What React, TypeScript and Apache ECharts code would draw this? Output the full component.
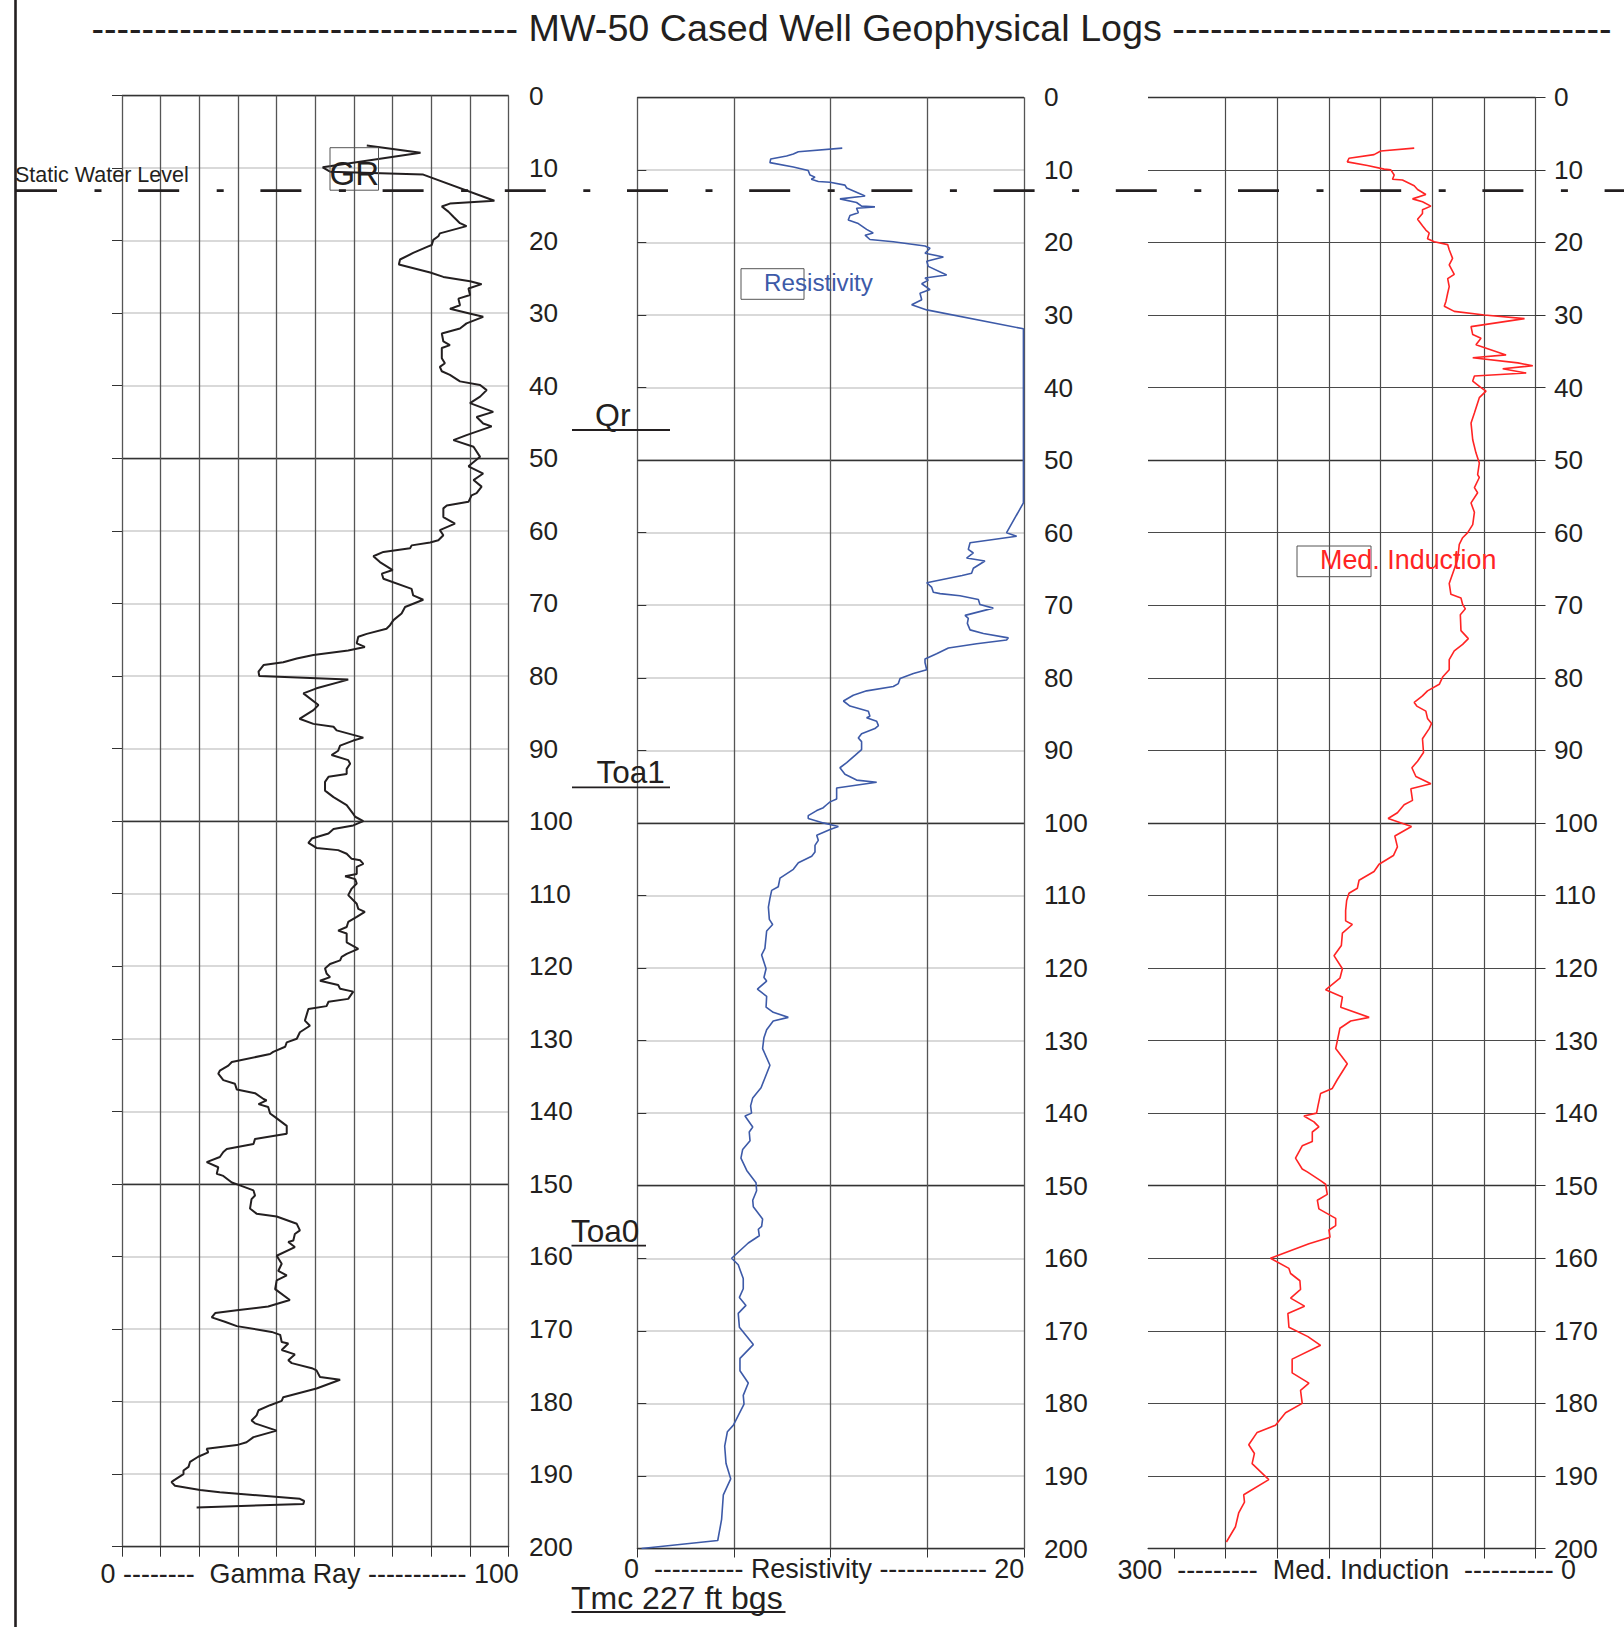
import React, { useEffect, useRef } from "react";
import * as echarts from "echarts";

// ---------- data (depth ft, value) ----------
const grLog: [number, number][] = [
  [6.9, 63.3], [7.9, 77.2], [9.9, 51.9], [10.5, 53.8], [10.9, 77.9], [14.5, 96.3], [14.9, 84.8], [15.3, 82.7],
  [16.0, 84.4], [16.7, 85.7], [17.6, 87.4], [18.0, 89.1], [19.0, 82.2], [19.4, 81.8], [19.9, 80.5], [20.6, 80.1],
  [20.8, 79.2], [21.7, 75.3], [22.6, 71.9], [23.3, 71.6], [24.4, 79.7], [25.0, 83.1], [25.6, 90.0], [26.0, 93.0],
  [26.6, 89.6], [27.5, 90.0], [28.0, 87.0], [28.9, 87.4], [29.4, 84.8], [30.0, 89.6], [30.5, 93.4], [31.4, 89.1],
  [32.1, 87.4], [32.8, 82.7], [33.9, 83.1], [34.4, 84.8], [34.8, 82.7], [36.2, 82.7], [36.9, 83.5], [37.4, 82.2],
  [38.0, 82.7], [38.5, 84.8], [39.4, 87.4], [39.9, 92.6], [40.6, 94.3], [41.5, 92.6], [42.4, 90.0], [43.6, 96.0],
  [44.3, 91.7], [45.2, 93.4], [45.6, 95.6], [46.8, 89.1], [47.5, 85.7], [48.4, 90.9], [49.8, 92.6], [51.1, 89.6],
  [52.1, 93.4], [53.0, 90.9], [53.9, 93.0], [54.8, 91.7], [55.1, 90.4], [56.0, 89.6], [56.5, 84.0], [56.9, 83.1],
  [58.1, 83.1], [59.0, 86.1], [59.9, 82.2], [60.6, 83.1], [61.3, 81.8], [61.6, 79.7], [62.0, 74.9], [62.4, 74.5],
  [62.9, 67.6], [63.5, 65.0], [64.3, 66.7], [65.4, 70.0], [65.9, 67.2], [66.6, 67.6], [68.0, 74.9], [68.9, 75.3],
  [69.5, 77.9], [70.5, 73.2], [71.4, 72.3], [72.3, 70.2], [73.0, 69.3], [73.5, 68.4], [74.2, 63.3], [74.6, 61.1],
  [75.5, 60.7], [76.0, 62.8], [76.5, 58.5], [77.1, 49.5], [77.6, 45.2], [78.1, 41.7], [78.5, 36.6], [79.4, 35.3],
  [80.0, 35.5], [80.5, 58.5], [81.7, 50.3], [82.4, 46.9], [84.0, 50.8], [84.7, 49.5], [85.9, 45.9], [86.6, 49.5],
  [87.0, 54.7], [87.5, 55.5], [88.5, 62.4], [88.9, 59.8], [89.6, 56.4], [90.3, 55.9], [90.9, 54.2], [91.6, 58.5],
  [92.1, 59.0], [92.8, 58.1], [93.5, 58.1], [93.9, 53.4], [94.6, 52.5], [95.8, 52.5], [96.7, 54.7], [97.8, 58.1],
  [99.0, 59.8], [99.4, 60.3], [100.0, 62.4], [100.6, 59.8], [101.1, 54.7], [101.7, 53.4], [102.4, 49.1], [103.0, 48.2],
  [103.7, 50.3], [104.0, 55.9], [104.5, 58.1], [105.2, 59.4], [105.4, 61.6], [105.9, 62.4], [106.3, 60.7], [107.3, 60.7],
  [107.6, 57.7], [108.0, 60.3], [108.6, 60.7], [109.3, 59.4], [110.2, 58.5], [111.4, 60.7], [112.1, 61.1], [112.5, 62.8],
  [113.2, 60.7], [113.9, 58.5], [114.6, 58.1], [115.1, 55.9], [115.5, 58.1], [116.7, 58.1], [117.6, 61.1], [118.3, 58.1],
  [118.7, 56.8], [119.2, 56.4], [119.7, 53.8], [120.3, 52.5], [121.0, 52.9], [121.5, 53.8], [122.0, 51.2], [122.6, 55.9],
  [123.1, 56.4], [123.5, 59.8], [124.5, 58.5], [124.9, 53.4], [125.5, 52.9], [125.9, 48.2], [126.6, 47.8], [127.5, 47.3],
  [128.2, 48.6], [129.1, 46.0], [130.0, 45.2], [130.5, 42.6], [131.1, 42.2], [131.8, 39.1], [132.1, 38.3], [133.2, 28.4],
  [133.7, 27.5], [134.4, 25.3], [134.8, 24.9], [135.7, 26.2], [136.2, 29.2], [137.0, 29.7], [137.5, 34.4], [138.3, 36.6],
  [138.5, 37.4], [139.0, 35.3], [139.4, 37.8], [140.3, 38.3], [140.8, 39.6], [142.0, 42.6], [143.1, 42.6], [143.8, 34.4],
  [144.5, 34.0], [145.2, 27.1], [145.6, 26.2], [146.3, 25.3], [147.0, 21.9], [147.7, 24.9], [148.6, 24.5], [148.9, 26.2],
  [149.8, 28.4], [150.2, 30.5], [150.9, 34.0], [151.6, 34.4], [152.1, 33.5], [153.4, 33.1], [154.1, 34.8], [154.5, 40.0],
  [155.5, 45.2], [156.4, 46.0], [156.9, 44.7], [157.8, 44.3], [158.0, 43.0], [158.7, 44.7], [159.9, 40.0], [161.0, 41.3],
  [162.0, 40.4], [162.6, 42.6], [163.3, 40.0], [164.5, 39.6], [166.0, 43.4], [166.9, 37.8], [167.4, 29.7], [167.8, 24.1],
  [168.4, 23.2], [169.0, 26.6], [169.6, 29.7], [170.4, 38.7], [170.8, 40.9], [171.8, 41.3], [172.0, 43.0], [172.9, 41.3],
  [173.5, 44.7], [174.3, 43.0], [174.7, 43.9], [175.4, 49.1], [175.7, 50.3], [176.6, 51.2], [177.0, 56.4], [178.2, 50.3],
  [179.4, 41.7], [179.9, 41.3], [180.5, 38.3], [181.2, 35.3], [181.9, 34.8], [182.6, 33.5], [183.0, 34.4], [184.0, 40.0],
  [184.9, 34.0], [185.6, 32.2], [186.0, 29.7], [186.5, 21.9], [187.0, 22.3], [187.6, 19.7], [188.3, 17.6], [189.0, 17.2],
  [189.5, 15.9], [190.0, 15.9], [190.9, 13.3], [191.1, 12.8], [191.6, 13.7], [192.2, 20.2], [192.5, 25.3], [193.4, 46.0],
  [193.7, 47.1], [194.1, 46.9], [194.6, 19.3],
];

const resLog: [number, number][] = [
  [7.0, 10.6], [7.5, 8.33], [7.8, 8.07], [8.1, 7.72], [8.5, 6.9], [9.0, 6.86], [9.6, 8.07], [10.1, 8.84],
  [10.7, 8.93], [11.0, 9.19], [11.3, 9.0], [11.6, 9.36], [11.7, 9.97], [12.1, 10.74], [12.5, 10.83], [13.6, 11.78],
  [14.0, 10.48], [14.5, 11.34], [15.0, 11.6], [15.1, 12.29], [15.3, 11.34], [15.9, 11.43], [16.3, 11.0], [16.9, 10.91],
  [17.4, 11.43], [18.2, 11.86], [18.7, 12.2], [19.0, 11.78], [19.6, 12.03], [19.9, 13.24], [20.5, 14.88], [20.8, 15.14],
  [21.5, 14.88], [22.0, 15.83], [22.6, 14.97], [23.3, 15.05], [24.5, 16.0], [24.9, 14.88], [25.2, 15.05], [25.7, 14.71],
  [26.5, 15.14], [27.0, 14.62], [27.9, 14.71], [28.6, 14.19], [29.3, 14.97], [31.9, 19.97], [55.9, 19.97], [60.0, 19.1],
  [60.5, 19.62], [61.4, 17.21], [62.3, 17.12], [62.8, 17.38], [63.5, 17.03], [63.9, 17.98], [64.9, 17.38], [65.6, 17.29],
  [65.9, 16.8], [66.9, 14.97], [67.5, 15.22], [68.2, 15.31], [68.4, 15.66], [68.7, 16.69], [69.2, 17.64], [69.9, 17.72],
  [70.4, 18.41], [71.4, 16.95], [71.8, 17.12], [72.5, 17.07], [73.4, 17.21], [73.9, 17.9], [74.5, 19.19], [74.8, 19.1],
  [75.3, 17.55], [75.9, 16.09], [76.7, 15.48], [77.4, 14.88], [77.9, 14.88], [78.9, 14.97], [79.4, 14.28], [80.1, 13.59],
  [80.8, 13.5], [81.2, 13.24], [81.8, 11.86], [82.4, 11.17], [83.2, 10.66], [83.9, 11.0], [84.6, 11.95], [85.3, 12.03],
  [85.5, 11.86], [86.0, 12.38], [86.6, 12.47], [87.0, 12.29], [87.7, 11.6], [88.3, 11.43], [88.8, 11.6], [89.9, 11.6],
  [90.7, 11.26], [91.7, 10.83], [92.4, 10.48], [93.3, 10.74], [94.1, 11.34], [94.4, 12.38], [95.2, 10.31], [96.7, 10.31],
  [97.1, 9.97], [97.5, 9.79], [97.9, 9.62], [98.3, 9.28], [99.0, 8.84], [99.4, 8.84], [100.0, 9.62], [100.5, 10.4],
  [100.9, 9.97], [101.7, 9.28], [102.4, 9.36], [103.1, 9.19], [104.0, 9.19], [104.6, 9.02], [105.5, 8.33], [106.4, 8.07],
  [107.6, 7.38], [108.8, 7.29], [109.3, 6.95], [110.4, 6.86], [111.6, 6.78], [113.3, 6.83], [114.0, 7.0], [114.9, 6.69],
  [117.3, 6.6], [118.2, 6.43], [120.1, 6.66], [121.3, 6.55], [121.8, 6.69], [122.9, 6.21], [123.9, 6.69], [125.4, 6.66],
  [126.1, 7.03], [126.8, 7.81], [127.3, 7.03], [128.5, 6.69], [129.6, 6.55], [131.1, 6.48], [133.4, 6.86], [136.5, 6.4],
  [137.9, 5.97], [139.0, 5.86], [140.0, 5.91], [140.4, 5.57], [141.9, 5.97], [142.6, 5.79], [143.8, 5.83], [145.0, 5.45],
  [146.2, 5.36], [147.9, 5.66], [149.6, 6.14], [150.7, 6.17], [152.0, 5.97], [152.9, 6.0], [154.6, 6.48], [155.6, 6.43],
  [156.0, 6.26], [156.9, 6.31], [157.9, 5.74], [160.0, 4.88], [160.9, 5.22], [162.8, 5.48], [164.2, 5.48], [165.4, 5.28],
  [166.5, 5.62], [167.6, 5.22], [169.5, 5.28], [171.9, 6.0], [173.8, 5.31], [175.5, 5.31], [177.2, 5.74], [178.9, 5.48],
  [180.1, 5.52], [183.0, 4.97], [183.9, 4.66], [185.9, 4.52], [188.3, 4.59], [190.4, 4.83], [192.6, 4.45], [196.0, 4.36],
  [198.9, 4.16], [200.0, 0.22],
];

const indLog: [number, number][] = [
  [7.0, 93.9], [7.4, 119.8], [7.9, 125.0], [8.4, 144.4], [8.9, 145.7], [9.4, 130.1], [9.9, 117.2], [10.0, 112.0],
  [10.7, 109.4], [11.3, 110.7], [11.4, 103.0], [12.2, 93.9], [12.7, 91.3], [13.4, 84.9], [14.0, 95.2], [14.4, 87.5],
  [15.0, 81.0], [15.5, 87.5], [16.0, 87.5], [16.8, 91.3], [17.7, 87.5], [18.3, 84.9], [18.7, 82.3], [19.5, 83.6],
  [19.9, 78.4], [20.3, 68.0], [21.0, 66.8], [22.2, 64.2], [23.1, 66.8], [24.4, 62.9], [25.0, 68.0], [26.1, 66.8],
  [27.0, 68.0], [28.1, 69.3], [28.8, 70.6], [29.5, 62.9], [30.0, 39.6], [30.5, 8.5], [31.6, 49.9], [32.7, 48.6],
  [33.2, 42.2], [34.1, 46.1], [35.5, 22.8], [35.9, 48.6], [36.6, 13.7], [37.0, 2.1], [37.4, 25.4], [38.0, 7.2],
  [38.4, 47.3], [39.1, 48.6], [40.0, 42.2], [40.5, 38.3], [41.4, 43.5], [43.5, 47.3], [44.9, 49.9], [47.2, 48.6],
  [49.0, 46.1], [50.4, 43.5], [52.0, 44.8], [52.4, 43.5], [53.8, 47.3], [54.5, 44.8], [55.9, 49.9], [57.2, 47.3],
  [58.9, 48.6], [60.0, 52.5], [60.7, 56.4], [61.6, 59.0], [63.7, 60.3], [67.0, 66.8], [68.5, 65.5], [69.0, 57.7],
  [69.9, 56.4], [70.5, 54.3], [71.3, 58.2], [73.5, 57.7], [74.6, 52.0], [75.4, 56.4], [76.3, 62.9], [77.5, 66.8],
  [78.9, 66.8], [79.9, 71.9], [80.9, 74.5], [81.8, 83.6], [82.5, 87.5], [83.4, 93.9], [83.9, 91.9], [84.6, 84.9],
  [85.6, 83.6], [86.3, 80.5], [87.0, 82.3], [88.4, 87.5], [90.3, 86.7], [91.5, 91.3], [92.4, 95.7], [93.6, 92.6],
  [94.6, 81.0], [95.3, 96.5], [96.9, 95.2], [97.5, 101.7], [98.6, 106.9], [99.4, 114.1], [100.5, 96.0], [101.8, 108.9],
  [103.3, 106.9], [104.5, 110.0], [105.7, 121.1], [106.7, 125.0], [107.9, 136.6], [109.0, 137.9], [109.7, 144.4], [110.7, 146.2],
  [112.1, 147.0], [113.5, 147.0], [114.0, 141.8], [115.2, 149.5], [116.9, 150.3], [118.3, 156.0], [120.1, 149.5], [121.4, 151.4],
  [123.0, 162.5], [124.0, 149.5], [125.4, 150.8], [126.8, 128.8], [127.3, 143.1], [128.3, 151.4], [131.1, 154.7], [133.2, 145.7],
  [135.4, 153.5], [136.6, 157.3], [137.3, 166.4], [139.0, 168.4], [140.0, 169.5], [140.4, 179.3], [141.2, 171.5], [141.9, 167.7],
  [142.6, 172.8], [143.9, 172.8], [144.5, 180.6], [146.2, 185.8], [147.7, 180.6], [148.1, 176.7], [149.3, 166.4], [149.8, 162.5],
  [151.2, 161.2], [152.0, 168.9], [153.2, 167.7], [154.5, 154.7], [155.5, 154.7], [156.1, 159.9], [157.1, 159.1], [158.0, 175.4],
  [160.0, 205.2], [161.4, 190.9], [162.1, 189.6], [163.1, 182.4], [164.3, 181.9], [165.5, 189.6], [166.6, 178.8], [167.6, 191.7],
  [169.5, 190.9], [170.8, 176.2], [172.0, 166.4], [173.9, 188.4], [175.8, 188.4], [177.2, 175.4], [178.2, 181.9], [180.0, 180.6],
  [181.3, 193.5], [183.0, 201.3], [184.0, 215.5], [185.7, 222.0], [186.9, 217.6], [188.3, 219.4], [190.5, 206.5], [192.6, 225.9],
  [193.6, 225.3], [195.1, 229.8], [197.0, 232.3], [199.1, 239.3],
];

// axis ranges / ticks
const DEPTH_MIN = 0;
const DEPTH_MAX = 200;
const DEPTH_STEP = 10;
const DEPTH_MAJOR = 50;
const GR_RANGE = [0, 100, 10];
const RES_RANGE = [0, 20, 5];
const IND_RANGE = [0, 300, 40];
const IND_TICKS = [0, 40, 80, 120, 160, 200, 240, 280];
const SWL_DEPTH = 12.87;

const TITLE = "-".repeat(34) + " MW-50 Cased Well Geophysical Logs " + "-".repeat(35);
const GR_AXIS_TEXT = "0 --------  Gamma Ray ----------- 100";
const RES_AXIS_TEXT = "0  ---------- Resistivity ------------ 20";
const IND_AXIS_TEXT = "300  ---------  Med. Induction  ---------- 0";

const FONT = '"Liberation Sans", Arial, Helvetica, sans-serif';
const INK = "#231f20";

function txt(text: string, x: number, y: number, size: number, fill = INK, align = "left") {
  return {
    type: "text",
    z: 50,
    silent: true,
    style: {
      text,
      x,
      y,
      fill,
      font: `${size}px ${FONT}`,
      align,
      verticalAlign: "middle",
      textAlign: align,
      textVerticalAlign: "middle",
    },
  };
}

function seg(x1: number, y1: number, x2: number, y2: number, w: number, stroke = INK, dash?: number[]) {
  return {
    type: "line",
    z: 60,
    silent: true,
    shape: { x1, y1, x2, y2 },
    style: { stroke, lineWidth: w, lineDash: dash, lineCap: "butt" },
  };
}

function box(x: number, y: number, w: number, h: number) {
  return {
    type: "rect",
    z: 40,
    silent: true,
    shape: { x, y, width: w, height: h },
    style: { fill: "none", stroke: "#555", lineWidth: 1 },
  };
}

export default function App() {
  const ref = useRef<HTMLDivElement>(null);

  useEffect(() => {
    const chart = echarts.init(ref.current!, null, { renderer: "svg" });

    const grids = [
      { left: 122, top: 95.5, width: 386.7, height: 1451.2 },
      { left: 637.3, top: 97.3, width: 386.7, height: 1451.2 },
      { left: 1148, top: 97.3, width: 387.5, height: 1451.2 },
    ];

    const panelStyle = [
      { side: "left", minor: "#cdcdcd", minorW: 1.5, vert: "#555555", tick: 10, margin: 20.3 },
      { side: "right", minor: "#cdcdcd", minorW: 1.5, vert: "#555555", tick: 9, margin: 20 },
      { side: "right", minor: "#4a4a4a", minorW: 1, vert: "#4a4a4a", tick: 10, margin: 18.5 },
    ];

    const yAxis: any[] = [];
    grids.forEach((_, g) => {
      const p = panelStyle[g];
      const base = {
        gridIndex: g,
        type: "value",
        inverse: true,
        min: DEPTH_MIN,
        max: DEPTH_MAX,
        axisLine: { show: false },
      };
      yAxis.push({
        ...base,
        interval: DEPTH_STEP,
        position: p.side,
        axisTick: { show: true, length: p.tick, lineStyle: { color: "#333", width: 1 } },
        axisLabel: { show: false },
        splitLine: { show: true, lineStyle: { color: p.minor, width: p.minorW } },
      });
      yAxis.push({
        ...base,
        interval: DEPTH_MAJOR,
        position: p.side,
        axisTick: { show: false },
        axisLabel: { show: false },
        splitLine: { show: true, lineStyle: { color: "#333", width: 1.3 } },
      });
      yAxis.push({
        ...base,
        interval: DEPTH_STEP,
        position: "right",
        axisTick: { show: false },
        splitLine: { show: false },
        axisLabel: {
          show: true,
          margin: p.margin,
          fontSize: 26.2,
          fontFamily: FONT,
          color: INK,
        },
      });
    });

    const xBase = (g: number, range: number[], extra: any = {}) => ({
      gridIndex: g,
      type: "value",
      min: range[0],
      max: range[1],
      interval: range[2],
      position: "bottom",
      axisLine: { show: true, onZero: false, lineStyle: { color: "#333", width: 1.2 } },
      axisTick: { show: true, length: panelStyle[g].tick, lineStyle: { color: "#333", width: 1 } },
      axisLabel: { show: false },
      splitLine: { show: true, lineStyle: { color: panelStyle[g].vert, width: 1.3 } },
      ...extra,
    });

    const xAxis = [
      xBase(0, GR_RANGE),
      xBase(1, RES_RANGE),
      xBase(2, IND_RANGE, {
        inverse: true,
        axisTick: { show: true, length: 10, customValues: IND_TICKS, lineStyle: { color: "#333", width: 1 } },
        splitLine: { show: true, showMaxLine: false, lineStyle: { color: panelStyle[2].vert, width: 1.2 } },
      }),
    ];

    const lineSeries = (name: string, xi: number, yi: number, log: [number, number][], color: string, w: number) => ({
      name,
      type: "line",
      xAxisIndex: xi,
      yAxisIndex: yi,
      data: log.map(([d, v]) => [v, d]),
      symbol: "none",
      showSymbol: false,
      silent: true,
      z: 10,
      lineStyle: { color, width: w },
    });

    chart.setOption({
      animation: false,
      backgroundColor: "#ffffff",
      grid: grids,
      xAxis,
      yAxis,
      series: [
        lineSeries("GR", 0, 0, grLog, INK, 2),
        lineSeries("Resistivity", 1, 3, resLog, "#3d5aa8", 1.6),
        lineSeries("Med. Induction", 2, 6, indLog, "#ff2424", 1.6),
      ],
    });

    const swlY = chart.convertToPixel({ yAxisIndex: 3 } as any, SWL_DEPTH) as number;

    chart.setOption({
      graphic: [
        seg(15.5, 0, 15.5, 1627, 2.6),
        txt(TITLE, 91.4, 27.5, 37.7),
        txt("Static Water Level", 15, 175, 21.5),
        seg(16, swlY, 1624, swlY, 2.8, INK, [41, 37.5, 7, 36.7]),
        box(330, 147.7, 48.5, 42.5),
        txt("GR", 329.5, 173, 33),
        box(741, 268.7, 63, 30.6),
        txt("Resistivity", 764, 282.5, 24.2, "#3d5aa8"),
        box(1297, 546, 74, 30.7),
        txt("Med. Induction", 1320, 560, 26.9, "#ff2424"),
        txt("Qr", 595, 415, 32),
        seg(572, 430, 670, 430, 1.8),
        txt("Toa1", 596.5, 772, 31.5),
        seg(572, 787.3, 670, 787.3, 1.8),
        txt("Toa0", 571, 1230.5, 31.5),
        seg(571.5, 1245.7, 646, 1245.7, 1.8),
        txt("Tmc 227 ft bgs", 571, 1598, 32),
        seg(571.5, 1612, 785.5, 1612, 1.8),
        txt(GR_AXIS_TEXT, 100.6, 1573.5, 26.9),
        txt(RES_AXIS_TEXT, 624, 1568.5, 26.9),
        txt(IND_AXIS_TEXT, 1117.4, 1569.5, 26.9),
      ],
    });

    return () => chart.dispose();
  }, []);

  return (
    <div
      ref={ref}
      style={{ position: "absolute", left: 0, top: 0, width: 1624, height: 1627, background: "#fff" }}
    />
  );
}
